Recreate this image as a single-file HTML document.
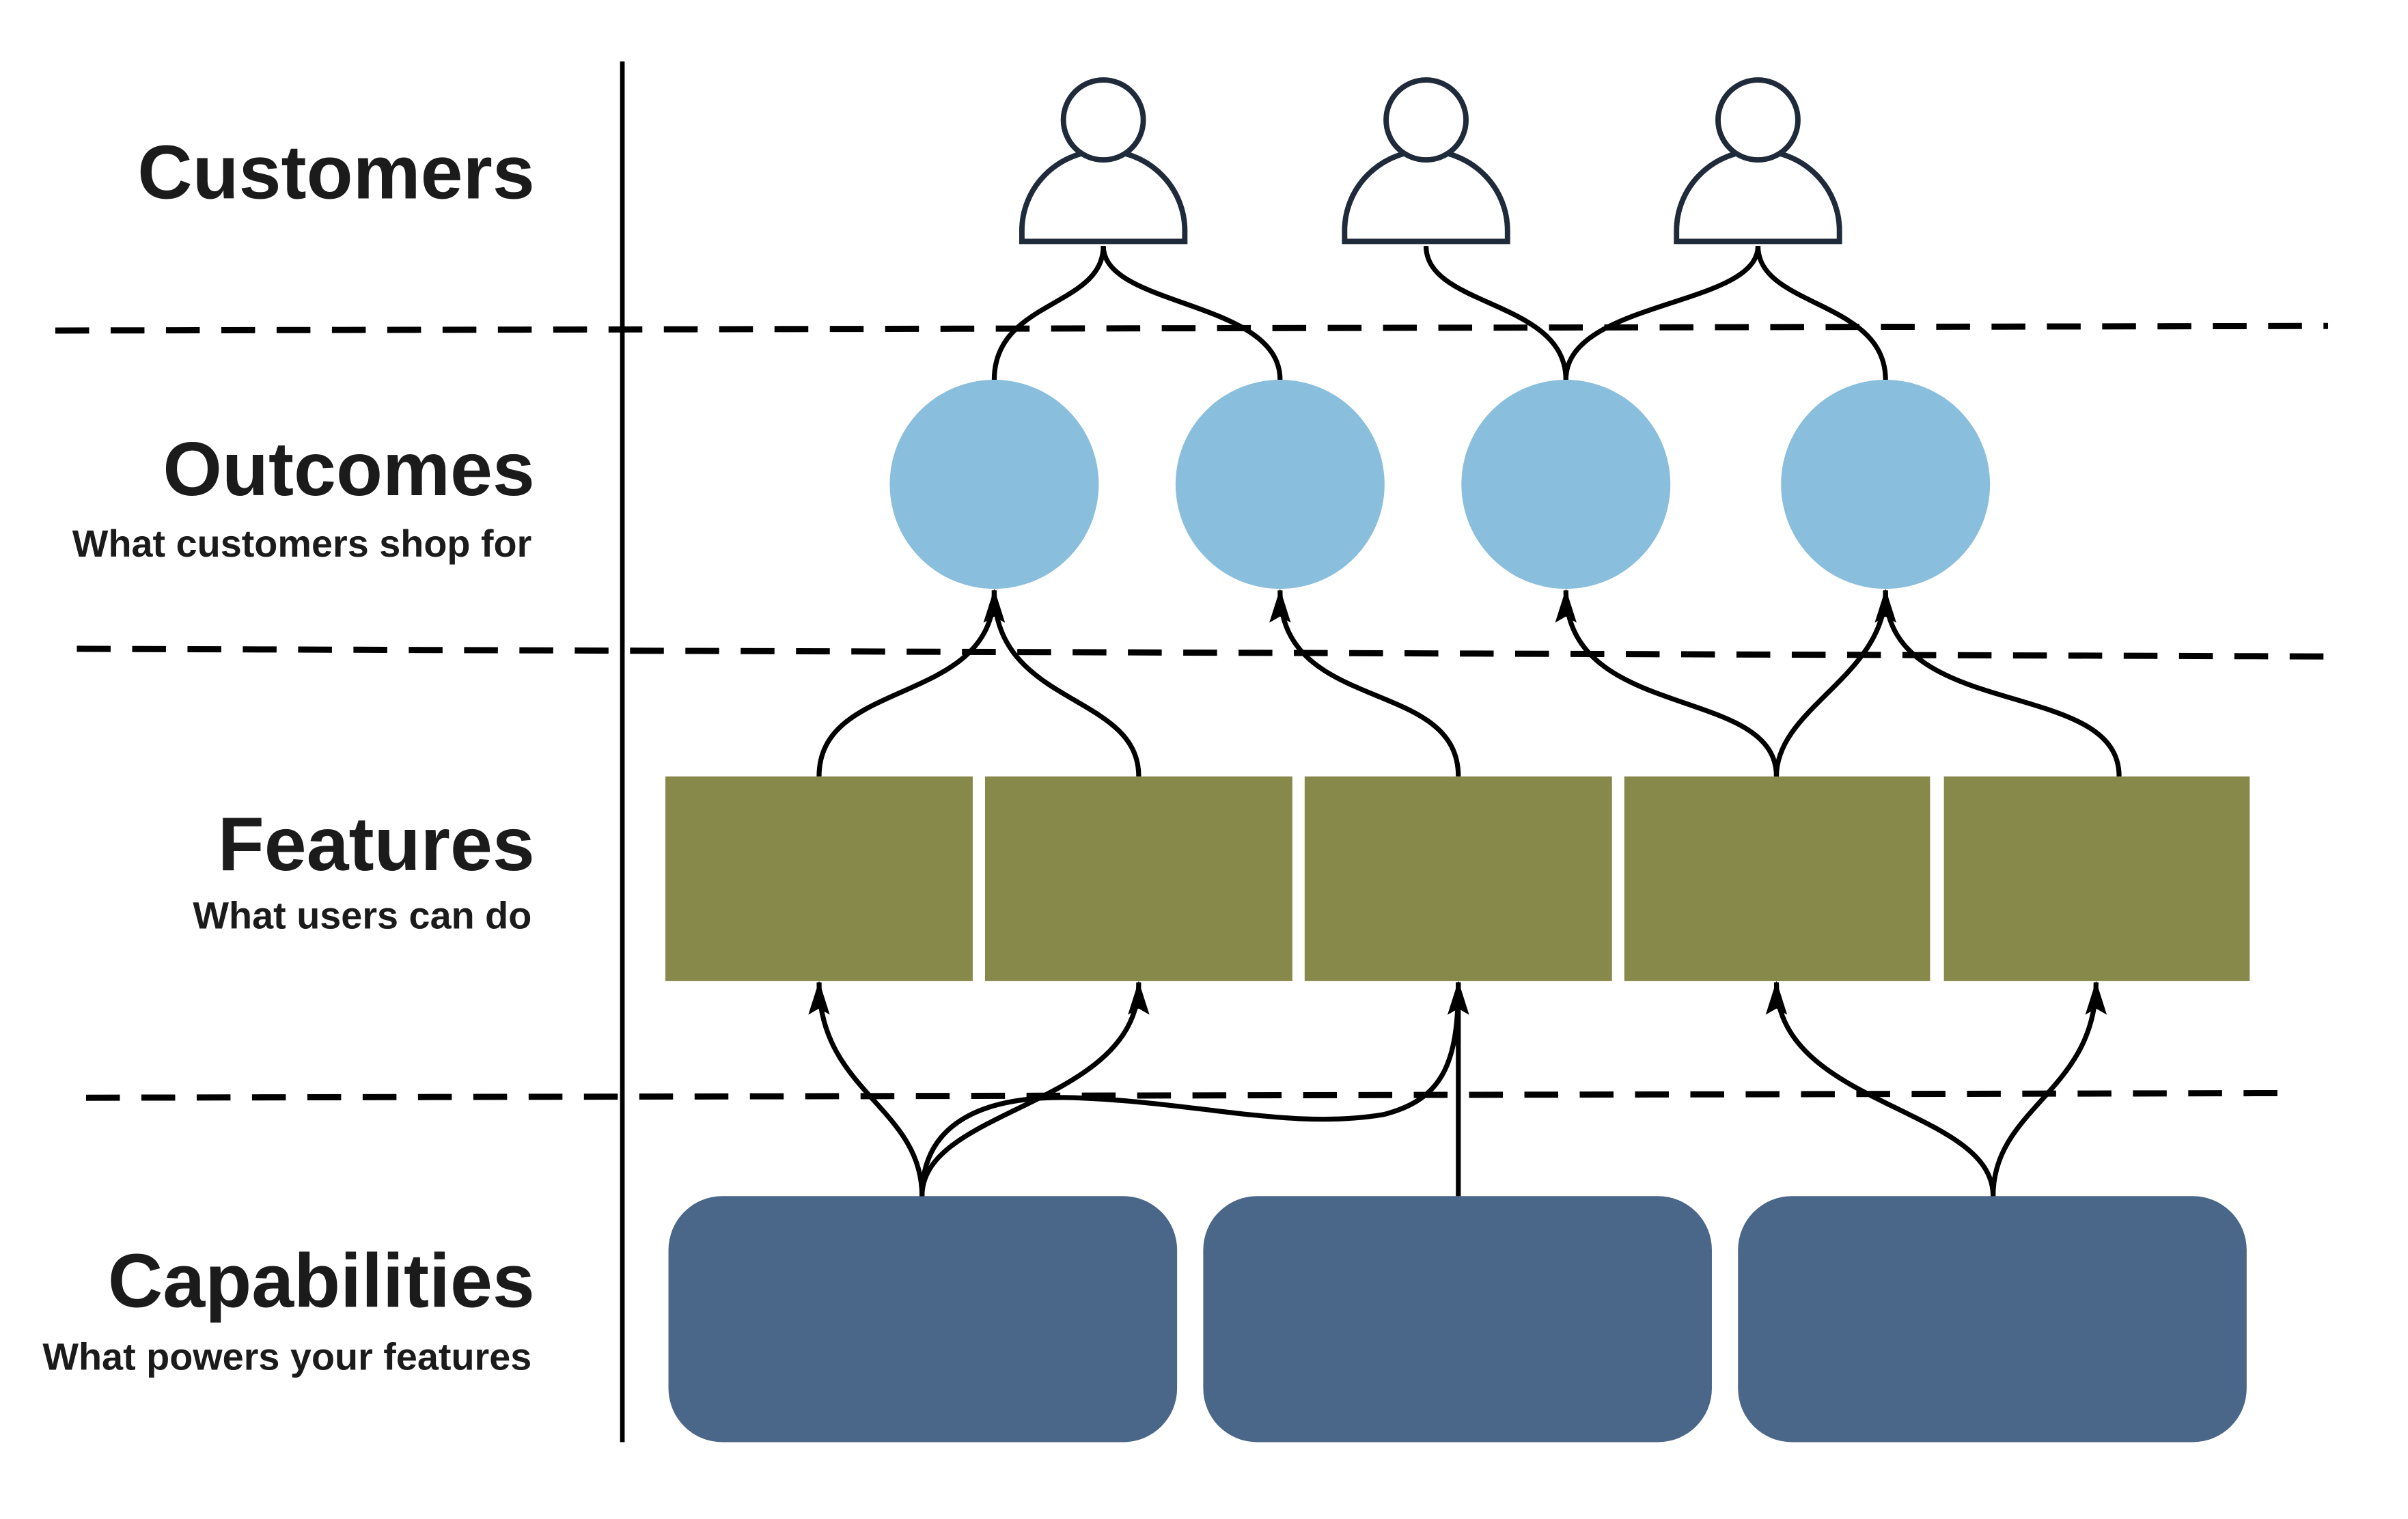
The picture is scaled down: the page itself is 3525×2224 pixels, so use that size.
<!DOCTYPE html>
<html><head><meta charset="utf-8"><style>
html,body{margin:0;padding:0;background:#fff;}
svg{display:block;}
text{font-family:"Liberation Sans",sans-serif;font-weight:bold;fill:#1b1b1b;}
</style></head><body>
<svg width="3525" height="2224" viewBox="0 0 1567 988" preserveAspectRatio="none" xmlns="http://www.w3.org/2000/svg">
<defs>
<marker id="a" markerWidth="22" markerHeight="14" refX="21" refY="7" orient="auto" markerUnits="userSpaceOnUse" viewBox="0 0 22 14">
<path d="M0 0 L22 7 L0 14 L4 7 Z" fill="#000"/>
</marker>
</defs>
<rect width="1567" height="988" fill="#fff"/>
<line x1="405" y1="40" x2="405" y2="938" stroke="#000" stroke-width="3"/>
<g stroke="#000" stroke-width="4" stroke-dasharray="22 14" fill="none">
<line x1="36" y1="215" x2="1515" y2="212"/>
<line x1="50" y1="422" x2="1518" y2="427"/>
<line x1="56" y1="714" x2="1487" y2="711"/>
</g>
<g text-anchor="end">
<text x="348" y="129" font-size="49.5">Customers</text>
<text x="348" y="322" font-size="49.5">Outcomes</text>
<text x="346" y="362" font-size="24.8">What customers shop for</text>
<text x="348" y="566" font-size="49.5">Features</text>
<text x="346" y="604" font-size="24.8">What users can do</text>
<text x="348" y="850" font-size="49.5">Capabilities</text>
<text x="346" y="891" font-size="24.8">What powers your features</text>
</g>
<g fill="#fff" stroke="#1f2a3a" stroke-width="3.5">
<g transform="translate(718,0)"><path d="M-53 157 L-53 150 A53 52 0 0 1 53 150 L53 157 Z"/><circle cx="0" cy="78" r="26"/></g>
<g transform="translate(928,0)"><path d="M-53 157 L-53 150 A53 52 0 0 1 53 150 L53 157 Z"/><circle cx="0" cy="78" r="26"/></g>
<g transform="translate(1144,0)"><path d="M-53 157 L-53 150 A53 52 0 0 1 53 150 L53 157 Z"/><circle cx="0" cy="78" r="26"/></g>
</g>
<g fill="#89bedc">
<circle cx="647" cy="315" r="68"/><circle cx="833" cy="315" r="68"/><circle cx="1019" cy="315" r="68"/><circle cx="1227" cy="315" r="68"/>
</g>
<g fill="#87894b">
<rect x="433" y="505" width="200" height="133"/><rect x="641" y="505" width="200" height="133"/><rect x="849" y="505" width="200" height="133"/><rect x="1057" y="505" width="199" height="133"/><rect x="1265" y="505" width="199" height="133"/>
</g>
<g fill="#4a6688">
<rect x="435" y="778" width="331" height="160" rx="35"/><rect x="783" y="778" width="331" height="160" rx="35"/><rect x="1131" y="778" width="331" height="160" rx="35"/>
</g>
<g stroke="#000" stroke-width="3.2" fill="none">
<path d="M718 160 C718 200 647 195 647 247"/>
<path d="M718 160 C718 200 833 195 833 247"/>
<path d="M928 160 C928 200 1019 195 1019 247"/>
<path d="M1144 160 C1144 200 1019 195 1019 247"/>
<path d="M1144 160 C1144 200 1227 195 1227 247"/>
</g>
<g stroke="#000" stroke-width="3.2" fill="none" marker-end="url(#a)">
<path d="M533 505 C533 440 647 460 647 384"/>
<path d="M741 505 C741 450 647 460 647 384"/>
<path d="M949 505 C949 440 833 465 833 384"/>
<path d="M1156 505 C1156 445 1019 470 1019 384"/>
<path d="M1156 505 C1156 460 1227 440 1227 384"/>
<path d="M1379 505 C1379 440 1227 470 1227 384"/>
</g>
<g stroke="#000" stroke-width="3.2" fill="none" marker-end="url(#a)">
<path d="M600 778 C600 720 533 710 533 639"/>
<path d="M600 778 C600 720 741 720 741 639"/>
<path d="M600 778 C600 730 640 712 700 714 C780 717 840 735 900 725 C940 715 949 690 949 639"/>
<path d="M949 778 L949 639"/>
<path d="M1297 778 C1297 720 1156 720 1156 639"/>
<path d="M1297 778 C1297 720 1364 710 1364 639"/>
</g>
</svg>
</body></html>
